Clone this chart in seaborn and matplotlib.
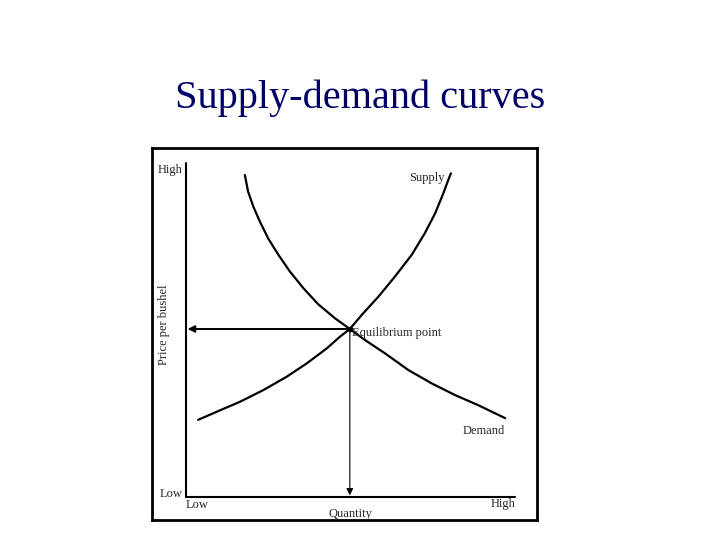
import pandas as pd
import matplotlib.pyplot as plt
import seaborn as sns

sns.set_style("white")
plt.rcParams['font.family'] = ['Liberation Serif', 'DejaVu Serif']

# =====================
# Curve data (quantity 0-10, price 0-10)
# =====================
demand_q = [1.79, 1.89, 2.05, 2.25, 2.50, 2.81, 3.16, 3.57, 4.02, 4.53,
            4.98, 5.44, 6.05, 6.76, 7.47, 8.18, 8.88, 9.70]
demand_p = [9.64, 9.14, 8.69, 8.24, 7.74, 7.25, 6.75, 6.25, 5.77, 5.35,
            5.03, 4.70, 4.30, 3.80, 3.40, 3.05, 2.75, 2.36]

supply_q = [0.37, 0.93, 1.64, 2.35, 3.06, 3.67, 4.28, 4.68, 4.98,
            5.34, 5.85, 6.35, 6.86, 7.26, 7.57, 7.82, 7.97, 8.05]
supply_p = [2.31, 2.55, 2.85, 3.20, 3.60, 4.00, 4.45, 4.80, 5.03,
            5.45, 6.00, 6.60, 7.25, 7.90, 8.49, 9.09, 9.49, 9.69]

eq_q, eq_p = 4.98, 5.03

df_demand = pd.DataFrame({'Quantity': demand_q, 'Price': demand_p})
df_supply = pd.DataFrame({'Quantity': supply_q, 'Price': supply_p})

# =====================
# Plot
# =====================
fig = plt.figure(figsize=(7.2, 5.4), dpi=100)
fig.text(0.5, 0.818, 'Supply-demand curves', ha='center', va='center',
         fontsize=29, color='#000066')

ax = fig.add_axes([0.211, 0.037, 0.535, 0.689])
sns.lineplot(data=df_demand, x='Quantity', y='Price', sort=False,
             color='black', linewidth=1.6, ax=ax)
sns.lineplot(data=df_supply, x='Quantity', y='Price', sort=False,
             color='black', linewidth=1.6, ax=ax)

# axes lines
ax.plot([0, 0], [0, 10], color='black', linewidth=1.5)
ax.plot([0, 10], [0, 0], color='black', linewidth=1.5)

# arrows from equilibrium
ax.annotate('', xy=(0.05, eq_p), xytext=(eq_q, eq_p),
            arrowprops=dict(arrowstyle='-|>', color='black', lw=1.4,
                            mutation_scale=10, shrinkA=0, shrinkB=0))
ax.annotate('', xy=(eq_q, 0.05), xytext=(eq_q, eq_p),
            arrowprops=dict(arrowstyle='-|>', color='black', lw=0.8,
                            mutation_scale=10, shrinkA=0, shrinkB=0))
ax.plot([eq_q], [eq_p], 'o', color='black', markersize=3)

fs = 9
ax.text(-0.1, 9.8, 'High', ha='right', va='center', fontsize=fs)
ax.text(-0.1, 0.1, 'Low', ha='right', va='center', fontsize=fs)
ax.text(0.0, -0.25, 'Low', ha='left', va='center', fontsize=fs)
ax.text(10.0, -0.22, 'High', ha='right', va='center', fontsize=fs)
ax.text(5.0, -0.52, 'Quantity', ha='center', va='center', fontsize=fs)
ax.text(-0.68, 5.15, 'Price per bushel', ha='center', va='center',
        rotation=90, fontsize=fs)
ax.text(7.85, 9.55, 'Supply', ha='right', va='center', fontsize=fs)
ax.text(eq_q + 0.08, eq_p - 0.12, 'Equilibrium point', ha='left', va='center', fontsize=fs)
ax.text(9.7, 1.98, 'Demand', ha='right', va='center', fontsize=fs)

ax.set_xlim(-1.033, 10.67)
ax.set_ylim(-0.689, 10.45)
ax.set_xticks([])
ax.set_yticks([])
ax.set_xlabel('')
ax.set_ylabel('')
for s in ax.spines.values():
    s.set_visible(True)
    s.set_color('black')
    s.set_linewidth(2)

plt.savefig('out.png', dpi=100)
